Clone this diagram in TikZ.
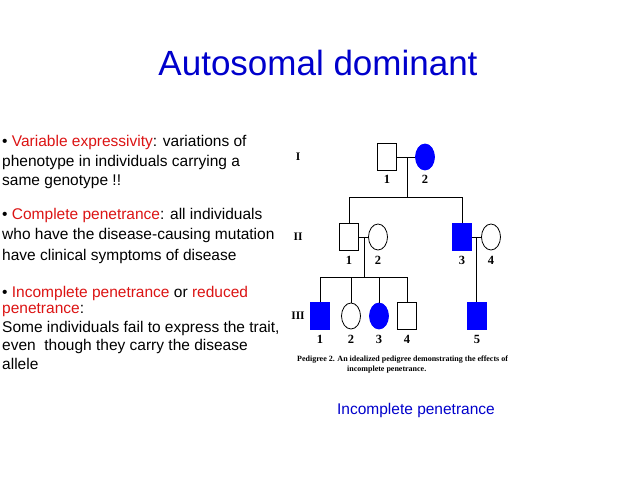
\documentclass[tikz,border=0pt]{standalone}
\usepackage{fontspec}
\usetikzlibrary{shapes.geometric}
\setmainfont{Liberation Sans}
\newfontfamily\capfont{Liberation Serif}
\begin{document}
\begin{tikzpicture}[x=1pt,y=-1pt,
  txt/.style={anchor=west,inner sep=0,font=\fontsize{15.5}{17}\selectfont},
  sq/.style={draw,line width=0.8pt,minimum width=19pt,minimum height=27pt,inner sep=0},
  ci/.style={draw,line width=0.8pt,ellipse,minimum width=19pt,minimum height=26pt,inner sep=0},
  aff/.style={fill=blue,draw=blue},
  ln/.style={line width=0.8pt},
  num/.style={font=\capfont\bfseries\fontsize{12.5}{13}\selectfont,inner sep=0},
  gen/.style={font=\capfont\bfseries\fontsize{11.5}{12}\selectfont,inner sep=0}]
\useasboundingbox[fill=white] (0,0) rectangle (638,479);
\definecolor{rd}{RGB}{220,20,20}
\node[font=\fontsize{35}{38}\selectfont,text=blue!80!black] (title) at (318,63) {Autosomal dominant};
\node[txt] (t1) at (2,142) {\textbullet\ \textcolor{rd}{Variable expressivity}: variations of};
\node[txt] (t2) at (2,162) {phenotype in individuals carrying a};
\node[txt] (t3) at (2,182) {same genotype !!};
\node[txt] (t4) at (2,215) {\textbullet\ \textcolor{rd}{Complete penetrance}: all individuals};
\node[txt] (t5) at (2,235) {who have the disease-causing mutation};
\node[txt] (t6) at (2,256) {have clinical symptoms of disease};
\node[txt] (t7) at (2,293) {\textbullet\ \textcolor{rd}{Incomplete penetrance} or \textcolor{rd}{reduced}};
\node[txt] (t8) at (2,310) {\textcolor{rd}{penetrance}:};
\node[txt] (t9) at (2,328) {Some individuals fail to express the trait,};
\node[txt] (t10) at (2,346) {even\ \ though they carry the disease};
\node[txt] (t11) at (2,364) {allele};
\node[font=\fontsize{15.5}{17}\selectfont,text=blue!80!black] (ip) at (416,410) {Incomplete penetrance};
\node[gen] (gI) at (298,157) {I};
\node[gen] (gII) at (298,237) {II};
\node[gen] (gIII) at (298,316) {III};
\node[sq] (a1) at (387,157) {};
\node[ci,aff] (a2) at (425,157) {};
\coordinate (m1) at (407,157);
\coordinate (s1) at (407,197);
\coordinate (s1l) at (349,197);
\coordinate (s1r) at (462,197);
\draw[ln] (a1.east) -- (a2.west);
\draw[ln] (m1) -- (s1); \draw[ln] (s1l) -- (s1r);
\node[num] at (387,179) {1}; \node[num] at (425,179) {2};
\node[sq] (b1) at (349,237) {};
\node[ci] (b2) at (378,237) {};
\node[sq,aff] (b3) at (462,237) {};
\node[ci] (b4) at (491,237) {};
\draw[ln] (s1l) -- (b1.north); \draw[ln] (s1r) -- (b3.north);
\draw[ln] (b1.east) -- (b2.west); \draw[ln] (b3.east) -- (b4.west);
\node[num] at (349,260) {1}; \node[num] at (378,260) {2};
\node[num] at (462,260) {3}; \node[num] at (491,260) {4};
\coordinate (m2) at (364,237); \coordinate (s2) at (364,277);
\coordinate (s2l) at (320,277); \coordinate (s2r) at (407,277);
\coordinate (m3) at (476,237);
\draw[ln] (m2) -- (s2); \draw[ln] (s2l) -- (s2r);
\node[sq,aff] (c1) at (320,316) {};
\node[ci] (c2) at (351,316) {};
\node[ci,aff] (c3) at (379,316) {};
\node[sq] (c4) at (407,316) {};
\node[sq,aff] (c5) at (477,316) {};
\draw[ln] (s2l) -- (c1.north); \draw[ln] (s2r) -- (c4.north);
\draw[ln] (c2.north|-s2) -- (c2.north); \draw[ln] (c3.north|-s2) -- (c3.north);
\draw[ln] (m3) -- (m3|-c5.north);
\node[num] at (320,339) {1}; \node[num] at (351,339) {2};
\node[num] at (379,339) {3}; \node[num] at (407,339) {4}; \node[num] at (477,339) {5};
\node[font=\capfont\bfseries\fontsize{8}{10}\selectfont,align=left,anchor=north west,inner sep=0] (cap) at (297,356) {Pedigree 2. An idealized pedigree demonstrating the effects of\\\hspace*{50pt}incomplete penetrance.};
\end{tikzpicture}
\end{document}
